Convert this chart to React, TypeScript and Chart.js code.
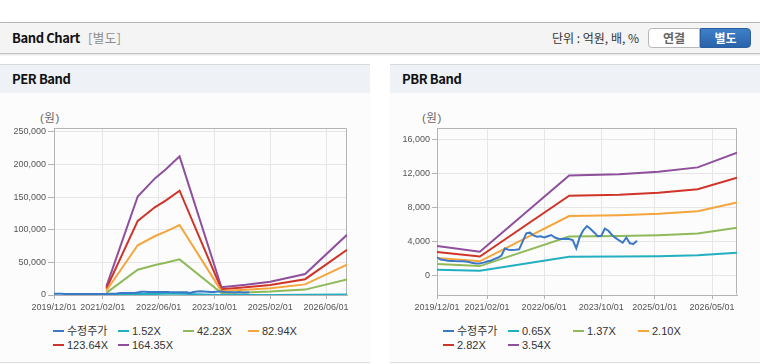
import React, { useEffect, useRef } from 'react';
import { Chart, registerables } from 'chart.js';

Chart.register(...registerables);

// ---------- data ----------
const START_MONTH = '2019/12';
const END_MONTH = '2026/12';

const PER_X_TICKS = ['2019/12/01', '2021/02/01', '2022/06/01', '2023/10/01', '2025/02/01', '2026/06/01'];
const PBR_X_TICKS = ['2019/12/01', '2021/02/01', '2022/06/01', '2023/10/01', '2025/01/01', '2026/05/01'];
const PER_Y_TICKS = [0, 50000, 100000, 150000, 200000, 250000];
const PBR_Y_TICKS = [0, 4000, 8000, 12000, 16000];

// 수정주가 (monthly from 2019/12)
const PRICE_START = '2019/12';
const PRICE = [
  2100, 1850, 1780, 1700, 1680, 1660, 1650, 1640, 1620, 1550,
  1420, 1390, 1390, 1480, 1620, 1700, 1900, 2050, 2300, 3150,
  3000, 2960, 3000, 3050, 3990, 4940, 5020, 4700, 4540, 4600,
  4450, 4600, 4740, 4450, 4300, 4270, 4300, 4270, 4150, 3160,
  4540, 5330, 5800, 5450, 5050, 4600, 4650, 5500, 5250, 4750,
  4400, 4100, 3830, 4450, 3760, 3680, 4060,
];

// PER band
const PER_DATES = ['2021/03', '2021/12', '2022/05', '2022/08', '2022/12', '2023/12', '2024/07', '2025/02', '2025/12', '2026/12'];
const PER_LABELS = ['수정주가', '1.52X', '42.23X', '82.94X', '123.64X', '164.35X'];
const PER_1 = [119, 1397, 1657, 1778, 1965, 109, 144, 188, 298, 853];
const PER_2 = [3294, 38809, 46031, 49409, 54603, 3041, 4012, 5237, 8277, 23691];
const PER_3 = [6469, 76222, 90405, 97040, 107241, 5972, 7879, 10285, 16256, 46529];
const PER_4 = [9644, 113625, 134768, 144659, 159867, 8902, 11746, 15331, 24233, 69362];
const PER_5 = [12819, 151038, 179142, 192290, 212505, 11833, 15613, 20379, 32213, 92200];

// PBR band
const PBR_DATES = ['2019/12', '2020/12', '2023/01', '2024/03', '2025/02', '2026/01', '2026/12'];
const PBR_LABELS = ['수정주가', '0.65X', '1.37X', '2.10X', '2.82X', '3.54X'];
const PBR_1 = [631, 507, 2165, 2191, 2243, 2340, 2659];
const PBR_2 = [1329, 1069, 4562, 4617, 4727, 4932, 5603];
const PBR_3 = [2037, 1638, 6993, 7077, 7245, 7560, 8589];
const PBR_4 = [2735, 2200, 9391, 9503, 9729, 10152, 11534];
const PBR_5 = [3434, 2761, 11788, 11930, 12213, 12744, 14479];

const COLORS = ['#3b78c6', '#22afc2', '#8fba5a', '#f5a53c', '#cf3429', '#8e4f9c'];

// ---------- helpers ----------
const TICK_FONT = "'Liberation Sans', Arial, sans-serif";
const UI_FONT = "'Noto Sans CJK KR', 'Liberation Sans', sans-serif";
const LEG_FONT = "'Liberation Sans', Arial, 'Noto Sans CJK KR', sans-serif";

function monthIndex(s: string): number {
  const [y, m] = s.split('/').map(Number);
  const [y0, m0] = START_MONTH.split('/').map(Number);
  return (y - y0) * 12 + (m - m0);
}

function pts(dates: string[], vals: number[]) {
  return dates.map((d, k) => ({ x: monthIndex(d), y: vals[k] }));
}

function monthly(start: string, vals: number[]) {
  const s = monthIndex(start);
  return vals.map((v, k) => ({ x: s + k, y: v }));
}

const framePlugin = {
  id: 'frame',
  beforeDatasetsDraw(chart: any) {
    const { ctx, chartArea } = chart;
    const l = Math.round(chartArea.left) + 0.5;
    const t = Math.round(chartArea.top) + 0.5;
    const r = Math.round(chartArea.right) - 0.5;
    const b = Math.round(chartArea.bottom) - 0.5;
    ctx.save();
    ctx.strokeStyle = '#b4b4b4';
    ctx.lineWidth = 1;
    ctx.beginPath();
    ctx.moveTo(l, t);
    ctx.lineTo(r, t);
    ctx.lineTo(r, b);
    ctx.stroke();
    ctx.restore();
  },
};

interface Cfg {
  labels: string[];
  data: { x: number; y: number }[][];
  xTicks: string[];
  yTicks: number[];
  yMin: number;
  yMax: number;
  yWidth: number;
  yTickLen: number;
}

function buildConfig(p: Cfg): any {
  return {
    type: 'line',
    data: {
      datasets: p.labels.map((lab, i) => ({
        label: lab,
        data: p.data[i],
        borderColor: COLORS[i],
        backgroundColor: COLORS[i],
        borderWidth: 2,
        pointRadius: 0,
        pointHoverRadius: 0,
        tension: 0,
        fill: false,
      })),
    },
    options: {
      animation: false,
      responsive: false,
      events: [],
      layout: { padding: { top: 35, right: 23, left: 0, bottom: 0 } },
      plugins: { legend: { display: false }, tooltip: { enabled: false } },
      scales: {
        x: {
          type: 'linear',
          min: 0,
          max: monthIndex(END_MONTH),
          afterBuildTicks: (sc: any) => {
            sc.ticks = p.xTicks.map((t) => ({ value: monthIndex(t) }));
          },
          afterFit: (sc: any) => {
            sc.height = 20;
          },
          ticks: {
            autoSkip: false,
            maxRotation: 0,
            padding: 3,
            color: '#555',
            font: { family: TICK_FONT, size: 9 },
            callback: (_v: any, idx: number) => p.xTicks[idx],
          },
          grid: { color: '#e6e6e6', tickColor: '#b4b4b4', tickLength: 4 },
          border: { color: '#b4b4b4' },
        },
        y: {
          type: 'linear',
          min: p.yMin,
          max: p.yMax,
          afterBuildTicks: (sc: any) => {
            sc.ticks = p.yTicks.map((v) => ({ value: v }));
          },
          afterFit: (sc: any) => {
            sc.width = p.yWidth;
          },
          ticks: {
            padding: 2,
            color: '#555',
            font: { family: TICK_FONT, size: 9 },
            callback: (v: any) => Number(v).toLocaleString('en-US'),
          },
          grid: { color: '#e6e6e6', tickColor: '#b4b4b4', tickLength: p.yTickLen },
          border: { color: '#b4b4b4' },
        },
      },
    },
    plugins: [framePlugin],
  };
}

function BandCanvas({ cfg }: { cfg: Cfg }) {
  const ref = useRef<HTMLCanvasElement | null>(null);
  useEffect(() => {
    if (!ref.current) return;
    const chart = new Chart(ref.current, buildConfig(cfg));
    return () => chart.destroy();
  }, []);
  return <canvas ref={ref} width={370} height={222} style={{ display: 'block', width: 370, height: 222 }} />;
}

function Legend({ labels }: { labels: string[] }) {
  return (
    <div style={{ position: 'absolute', left: 53, top: 323, width: 270, display: 'flex', flexWrap: 'wrap' }}>
      {labels.map((l, i) => (
        <div key={l} style={{ width: 65, height: 14, display: 'flex', alignItems: 'center' }}>
          <span style={{ display: 'inline-block', width: 11, height: 2, background: COLORS[i], marginRight: 3 }} />
          <span style={{ fontFamily: LEG_FONT, fontSize: 11, color: '#333', lineHeight: '14px', whiteSpace: 'nowrap' }}>{l}</span>
        </div>
      ))}
    </div>
  );
}

const TITLE_STYLE: React.CSSProperties = {
  position: 'absolute',
  left: 12,
  top: 0,
  fontFamily: UI_FONT,
  fontWeight: 700,
  fontSize: 13,
  letterSpacing: '-0.4px',
  color: '#111',
};

function Panel({ left, title, cfg, labels, unitLeft }: { left: number; title: string; cfg: Cfg; labels: string[]; unitLeft: number }) {
  return (
    <div style={{ position: 'absolute', left, top: 64, width: 370, height: 297, background: '#fcfcfc', borderTop: '1px solid #d8d8d8', borderBottom: '1px solid #dcdcdc' }}>
      <div style={{ position: 'absolute', left: 0, top: 0, width: 370, height: 28, background: '#eef2f7' }}>
        <span style={{ ...TITLE_STYLE, lineHeight: '28px' }}>{title}</span>
      </div>
      <span style={{ position: 'absolute', left: unitLeft, top: 46, lineHeight: '14px', fontFamily: LEG_FONT, fontSize: 11.5, letterSpacing: '0.5px', color: '#666' }}>(원)</span>
      <div style={{ position: 'absolute', left: 0, top: 28 }}>
        <BandCanvas cfg={cfg} />
      </div>
      <div style={{ position: 'absolute', left: 0, top: -64 }}>
        <Legend labels={labels} />
      </div>
    </div>
  );
}

export default function App() {
  const price = monthly(PRICE_START, PRICE);
  const perCfg: Cfg = {
    labels: PER_LABELS,
    data: [price, pts(PER_DATES, PER_1), pts(PER_DATES, PER_2), pts(PER_DATES, PER_3), pts(PER_DATES, PER_4), pts(PER_DATES, PER_5)],
    xTicks: PER_X_TICKS,
    yTicks: PER_Y_TICKS,
    yMin: 0,
    yMax: 256000,
    yWidth: 54,
    yTickLen: 6,
  };
  const pbrCfg: Cfg = {
    labels: PBR_LABELS,
    data: [price, pts(PBR_DATES, PBR_1), pts(PBR_DATES, PBR_2), pts(PBR_DATES, PBR_3), pts(PBR_DATES, PBR_4), pts(PBR_DATES, PBR_5)],
    xTicks: PBR_X_TICKS,
    yTicks: PBR_Y_TICKS,
    yMin: -2350,
    yMax: 17400,
    yWidth: 47,
    yTickLen: 5,
  };

  return (
    <div style={{ position: 'absolute', left: 0, top: 0, width: 760, height: 364, background: '#fff', overflow: 'hidden' }}>
      <div style={{ position: 'absolute', left: 0, top: 22, width: 760, height: 30, background: '#f4f4f4', borderTop: '1px solid #b4b4b4', borderBottom: '1px solid #c2c2c2', boxShadow: '0 1px 2px rgba(0,0,0,0.12)' }}>
        <span style={{ ...TITLE_STYLE, lineHeight: '30px' }}>Band Chart</span>
        <span style={{ position: 'absolute', left: 88, top: 0, lineHeight: '30px', fontFamily: UI_FONT, fontSize: 12.5, letterSpacing: '0.5px', color: '#8c8c8c' }}>[별도]</span>
        <span style={{ position: 'absolute', left: 552, top: 0, lineHeight: '30px', fontFamily: UI_FONT, fontSize: 12, color: '#333' }}>단위 : 억원, 배, %</span>
        <div style={{ position: 'absolute', left: 648, top: 5, width: 50, height: 18, background: '#fff', border: '1px solid #b8b8b8', borderRadius: '4px 0 0 4px', textAlign: 'center', lineHeight: '18px', fontFamily: UI_FONT, fontWeight: 700, fontSize: 12, color: '#666' }}>연결</div>
        <div style={{ position: 'absolute', left: 700, top: 5, width: 49, height: 18, background: 'linear-gradient(#3d80c8, #2a63a9)', border: '1px solid #2a5e9e', borderRadius: '0 4px 4px 0', textAlign: 'center', lineHeight: '18px', fontFamily: UI_FONT, fontWeight: 700, fontSize: 12, color: '#fff' }}>별도</div>
      </div>
      <Panel left={0} title="PER Band" cfg={perCfg} labels={PER_LABELS} unitLeft={40} />
      <Panel left={390} title="PBR Band" cfg={pbrCfg} labels={PBR_LABELS} unitLeft={32} />
    </div>
  );
}
